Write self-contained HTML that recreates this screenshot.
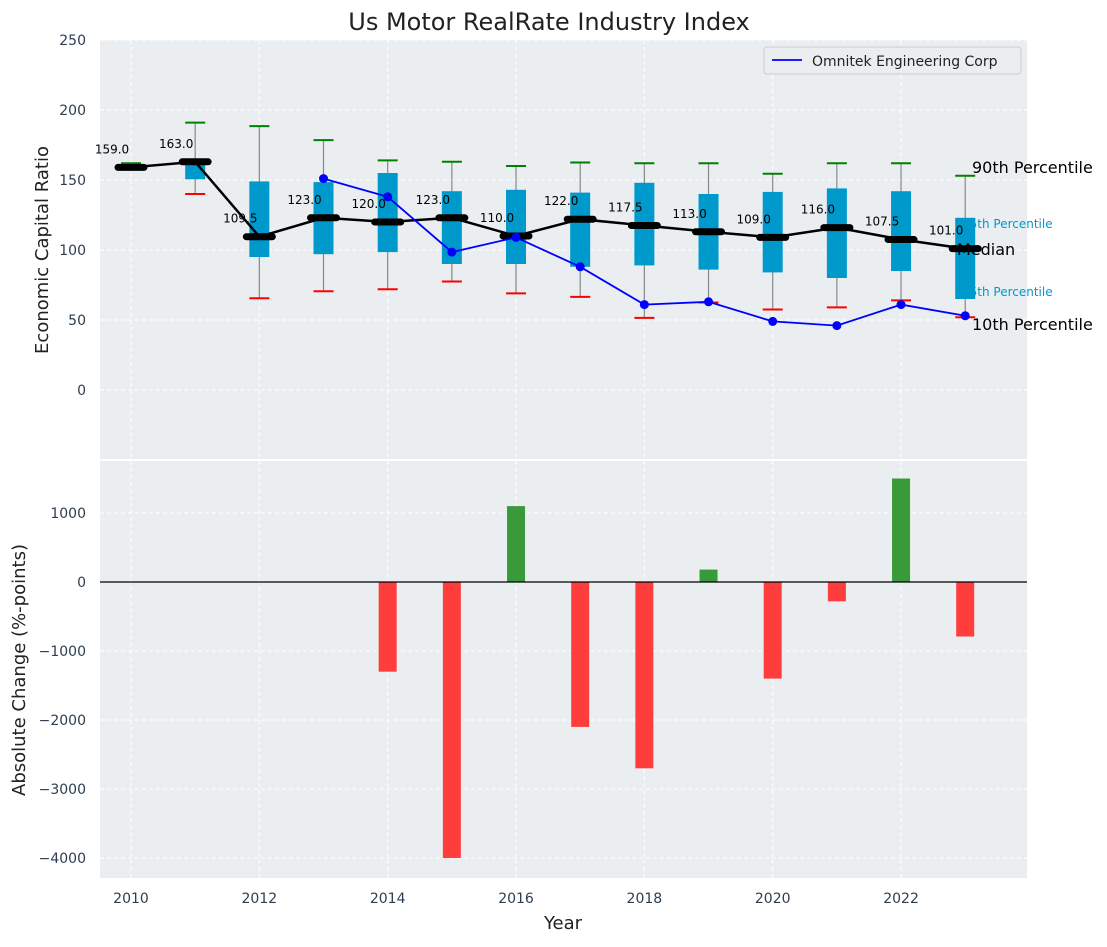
<!DOCTYPE html>
<html><head><meta charset="utf-8">
<style>
body{margin:0;background:#fff;}
svg text{font-family:"DejaVu Sans","Liberation Sans",sans-serif;}
</style></head>
<body>
<svg id="chart" width="1107" height="942" xmlns="http://www.w3.org/2000/svg">
<text x="549" y="30" text-anchor="middle" font-size="24" fill="#222">Us Motor RealRate Industry Index</text>
<g id="top"></g>
<g id="bot"></g>
</svg>
<script>
const years=[2010,2011,2012,2013,2014,2015,2016,2017,2018,2019,2020,2021,2022,2023];
const medians=[159,163,109.5,123,120,123,110,122,117.5,113,109,116,107.5,101];
const q1=[158.5,150.5,95,97,98.5,90,90,88,89,86,84,80,85,65];
const q3=[159.5,163,149,148.5,155,142,143,141,148,140,141.5,144,142,123];
const p90=[162,191,188.5,178.5,164,163,160,162.5,162,162,154.5,162,162,153];
const p10=[158,140,65.5,70.5,72,77.5,69,66.5,51.5,62.5,57.5,59,64,52];
const compYears=[2013,2014,2015,2016,2017,2018,2019,2020,2021,2022,2023];
const compVals=[151,138,98.5,109,88,61,63,49,46,61,53];
const changeYears=[2014,2015,2016,2017,2018,2019,2020,2021,2022,2023];
const changeVals=[-1300,-4000,1100,-2100,-2700,180,-1400,-280,1500,-790];
const topTicks=[0,50,100,150,200,250];
const botTicks=[-4000,-3000,-2000,-1000,0,1000];
const xTicks=[2010,2012,2014,2016,2018,2020,2022];

const NS="http://www.w3.org/2000/svg";
function mk(parent,tag,attrs,text){const e=document.createElementNS(NS,tag);for(const k in attrs)e.setAttribute(k,attrs[k]);if(text!==undefined)e.textContent=text;parent.appendChild(e);return e;}
const L=100,R=1027;
const xs=v=>131+(v-2010)*64.17;
const ty=v=>390-v*1.4;
const by=v=>582-v*0.069;
const topG=document.getElementById('top'),botG=document.getElementById('bot');
let e;

e=mk(topG,'rect',{x:L,y:40,width:R-L,height:419,fill:'#eaeef0'});


e=mk(botG,'rect',{x:L,y:461,width:R-L,height:417,fill:'#eaeef0'});



xTicks.forEach(t=>{
  mk(topG,'line',{x1:xs(t),x2:xs(t),y1:40,y2:459,stroke:'#fff','stroke-dasharray':'4,3','stroke-width':1});
  mk(botG,'line',{x1:xs(t),x2:xs(t),y1:461,y2:878,stroke:'#fff','stroke-dasharray':'4,3','stroke-width':1});
  e=mk(botG,'text',{x:xs(t),y:903,'text-anchor':'middle','font-size':14,fill:'#2d3e50'},t);
  
  
});
topTicks.forEach(t=>{
  mk(topG,'line',{x1:L,x2:R,y1:ty(t),y2:ty(t),stroke:'#fff','stroke-dasharray':'4,3','stroke-width':1});
  e=mk(topG,'text',{x:86,y:ty(t)+5,'text-anchor':'end','font-size':14,fill:'#2d3e50'},t);
  
  
});
botTicks.forEach(t=>{
  mk(botG,'line',{x1:L,x2:R,y1:by(t),y2:by(t),stroke:'#fff','stroke-dasharray':'4,3','stroke-width':1});
  e=mk(botG,'text',{x:86,y:by(t)+5,'text-anchor':'end','font-size':14,fill:'#2d3e50'},t.toString().replace('-','\u2212'));
  
  
});

years.forEach((y,i)=>{
  const x=xs(y);
  e=mk(topG,'line',{x1:x,x2:x,y1:ty(p90[i]),y2:ty(p10[i]),stroke:'#888','stroke-width':1.2});
  
  
  e=mk(topG,'rect',{x:x-10,y:ty(q3[i]),width:20,height:Math.max(0,ty(q1[i])-ty(q3[i])),fill:'#0099cc'});
  
  
  e=mk(topG,'line',{x1:x-10,x2:x+10,y1:ty(p90[i]),y2:ty(p90[i]),stroke:'green','stroke-width':2});
  
  
  e=mk(topG,'line',{x1:x-10,x2:x+10,y1:ty(p10[i]),y2:ty(p10[i]),stroke:'red','stroke-width':2});
  
  
});
e=mk(topG,'polyline',{points:years.map((y,i)=>xs(y)+','+ty(medians[i])).join(' '),fill:'none',stroke:'#000','stroke-width':2.5});


years.forEach((y,i)=>{
  e=mk(topG,'line',{x1:xs(y)-13,x2:xs(y)+13,y1:ty(medians[i]),y2:ty(medians[i]),stroke:'#000','stroke-width':7,'stroke-linecap':'round'});
  
  
  e=mk(topG,'text',{x:xs(y)-19,y:ty(medians[i])-14,'text-anchor':'middle','font-size':12,fill:'#000'},medians[i].toFixed(1));
  
  
});
e=mk(topG,'polyline',{points:compYears.map((y,i)=>xs(y)+','+ty(compVals[i])).join(' '),fill:'none',stroke:'blue','stroke-width':1.8});


compYears.forEach((y,i)=>{
  e=mk(topG,'circle',{cx:xs(y),cy:ty(compVals[i]),r:4.5,fill:'blue'});
  
  
});
[['90th Percentile',972,173,16,'#000'],['75th Percentile',962,228,12,'#0099cc'],['Median',957,255,16,'#000'],['25th Percentile',962,296,12,'#0099cc'],['10th Percentile',972,330,16,'#000']].forEach(a=>{
  e=mk(topG,'text',{x:a[1],y:a[2],'font-size':a[3],fill:a[4]},a[0]);
  
  
});
e=mk(topG,'rect',{x:764,y:47,width:257,height:27,fill:'#eaeef0',stroke:'#ccc',rx:3});


mk(topG,'line',{x1:772,x2:802,y1:60,y2:60,stroke:'blue','stroke-width':1.8});
e=mk(topG,'text',{x:812,y:66,'font-size':14,fill:'#222'},'Omnitek Engineering Corp');



changeYears.forEach((y,i)=>{
  const v=changeVals[i];
  e=mk(botG,'rect',{x:xs(y)-9,y:Math.min(by(v),by(0)),width:18,height:Math.abs(by(v)-by(0)),fill:v>=0?'#3a9a3a':'#ff3d3d'});
  
  
});
mk(botG,'line',{x1:L,x2:R,y1:by(0),y2:by(0),stroke:'#000','stroke-width':1.2});

e=mk(topG,'text',{x:48,y:250,'text-anchor':'middle','font-size':18,fill:'#222',transform:'rotate(-90 48 250)'},'Economic Capital Ratio');


e=mk(botG,'text',{x:25,y:670,'text-anchor':'middle','font-size':18,fill:'#222',transform:'rotate(-90 25 670)'},'Absolute Change (%-points)');


e=mk(botG,'text',{x:563,y:929,'text-anchor':'middle','font-size':18,fill:'#222'},'Year');


</script>
</body></html>
